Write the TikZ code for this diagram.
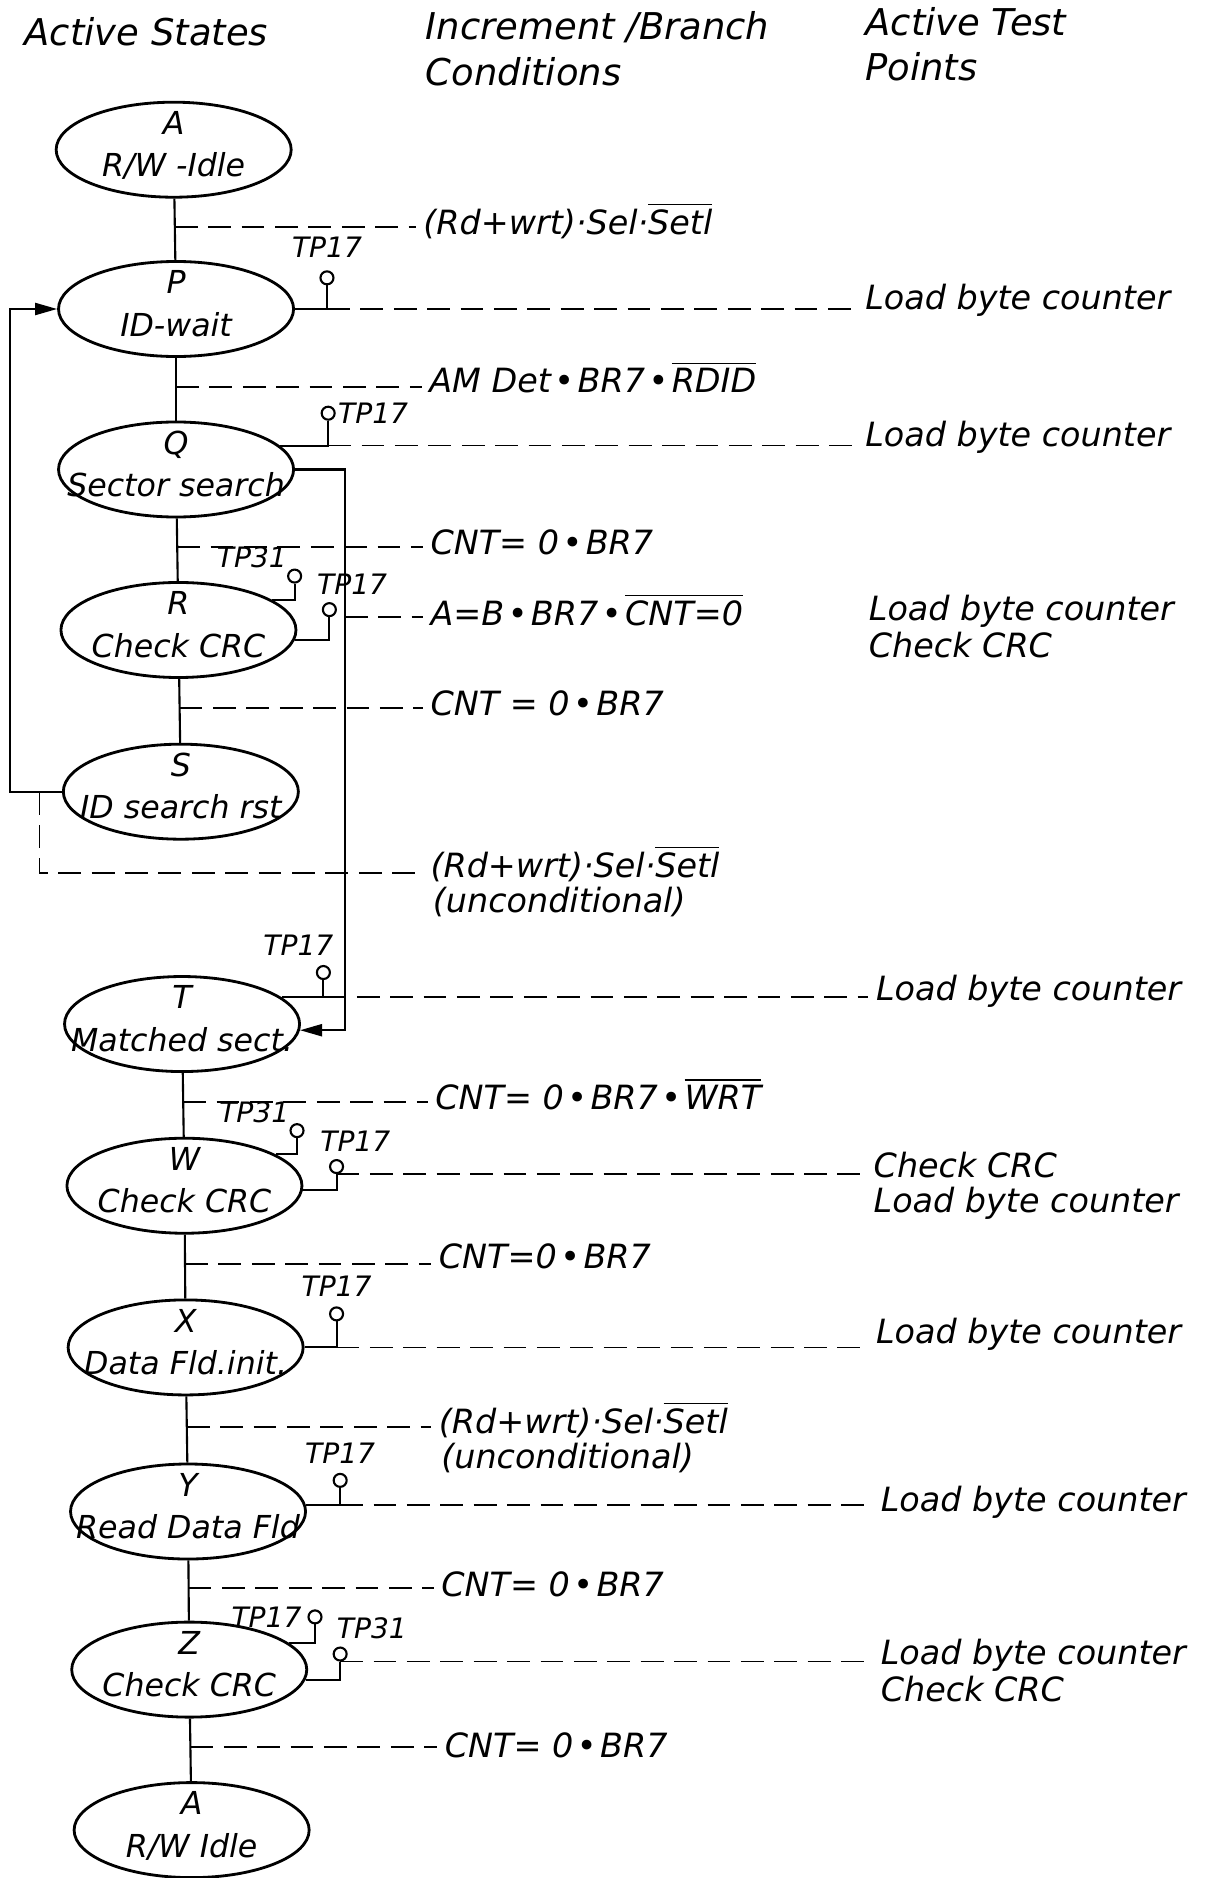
\documentclass[tikz,border=0pt]{standalone}
\usepackage{fontspec}
\setmainfont{DejaVu Sans}
\usetikzlibrary{positioning,shapes.geometric,arrows.meta}
\newcommand\sttext[2]{\smash{\makebox[0pt]{\raisebox{-1.5pt}{\def\arraystretch{1.1}\begin{tabular}{@{}c@{}}#1\\#2\end{tabular}}}}}
\newcommand\negd[1]{$\overline{\mbox{#1}}$}
\newcommand\bul{\kern1pt•\kern1pt}
\tikzset{state/.style={draw,ellipse,line width=0.8pt,minimum width=2.35cm,minimum height=0.95cm,inner sep=0pt,font=\fontsize{9}{11}\selectfont\itshape},
 cond/.style={anchor=base west,inner sep=2pt,font=\fontsize{9.5}{11}\selectfont\itshape},
 head/.style={anchor=base west,inner sep=0pt,font=\fontsize{10.5}{13}\selectfont\itshape},
 tp/.style={draw,circle,minimum size=1.3mm,inner sep=0pt,line width=0.6pt},
 tplab/.style={inner sep=0.5pt,font=\fontsize{8}{9}\selectfont\itshape},
 wire/.style={line width=0.6pt},
 branch/.style={line width=0.5pt,dash pattern=on 6.5pt off 3pt},
 tip/.style={-{Triangle[length=2.2mm,width=1.2mm]}}}
\begin{document}
\begin{tikzpicture}[x=0.11975mm,y=-0.11975mm]
\useasboundingbox (0,0) rectangle (1028,1568);
% column heads
\node[head] (hA) at (20,38) {Active States};
\node[head] (hB1) at (355,33) {Increment /Branch};
\node[head] (hB2) at (355,71) {Conditions};
\node[head] (hC1) at (722,30) {Active Test};
\node[head] (hC2) at (722,67) {Points};
% states
\node[state] (A1) at (145,125) {\sttext{A}{R/W -Idle}};
\node[state] (P) at (147,258) {\sttext{P}{ID-wait}};
\node[state] (Q) at (147,392) {\sttext{Q}{Sector search}};
\node[state] (R) at (149,526) {\sttext{R}{Check CRC}};
\node[state] (S) at (151,661) {\sttext{S}{ID search rst}};
\node[state] (T) at (152,855) {\sttext{T}{Matched sect.}};
\node[state] (W) at (154,990) {\sttext{W}{Check CRC}};
\node[state] (X) at (155,1125) {\sttext{X}{Data Fld.init.}};
\node[state] (Y) at (157,1262) {\sttext{Y}{Read Data Fld}};
\node[state] (Z) at (158,1394) {\sttext{Z}{Check CRC}};
\node[state] (A2) at (160,1528) {\sttext{A}{R/W Idle}};
% branch conditions
\node[cond] (cA1) at (347,196) {(Rd+wrt)·Sel·\negd{Setl}};
\node[cond] (cP) at (352,328) {AM Det\bul BR7\bul \negd{RDID}};
\node[cond] (cQ) at (353,463) {CNT= 0\bul BR7};
\node[cond] (cAB) at (353,522) {A=B\bul BR7\bul \negd{CNT=0}};
\node[cond] (cR) at (353,597) {CNT = 0\bul BR7};
\node[cond] (cS) at (353,733) {(Rd+wrt)·Sel·\negd{Setl}};
\node[cond] (uS) at (355,762) {(unconditional)};
\node[cond] (cT) at (357,926) {CNT= 0\bul BR7\bul \negd{WRT}};
\node[cond] (cW) at (360,1059) {CNT=0\bul BR7};
\node[cond] (cX) at (360,1197) {(Rd+wrt)·Sel·\negd{Setl}};
\node[cond] (uX) at (362,1226) {(unconditional)};
\node[cond] (cY) at (362,1333) {CNT= 0\bul BR7};
\node[cond] (cZ) at (365,1467) {CNT= 0\bul BR7};
% active test points
\node[cond] (aP) at (716,258) {Load byte counter};
\node[cond] (aQ) at (716,373) {Load byte counter};
\node[cond] (aR1) at (719,518) {Load byte counter};
\node[cond] (aR2) at (719,549) {Check CRC};
\node[cond] (aT) at (725,835) {Load byte counter};
\node[cond] (aW1) at (723,983) {Check CRC};
\node[cond] (aW2) at (723,1012) {Load byte counter};
\node[cond] (aX) at (725,1122) {Load byte counter};
\node[cond] (aY) at (729,1262) {Load byte counter};
\node[cond] (aZ1) at (729,1390) {Load byte counter};
\node[cond] (aZ2) at (729,1421) {Check CRC};
% test point pins
\node[tp] (tpP) at (273,232) {};
\node[tp] (tpQ) at (274,345) {};
\node[tp] (tp31R) at (246,481) {};
\node[tp] (tp17R) at (275,509) {};
\node[tp] (tpT) at (270,812) {};
\node[tp] (tp31W) at (248,944) {};
\node[tp] (tp17W) at (281,974) {};
\node[tp] (tpX) at (281,1097) {};
\node[tp] (tpY) at (284,1236) {};
\node[tp] (tp17Z) at (263,1350) {};
\node[tp] (tp31Z) at (284,1381) {};
\node[tplab,above=3pt of tpP] (lP) {TP17};
\node[tplab,right=0pt of tpQ] (lQ) {TP17};
\node[tplab,above left=0pt and 0pt of tp31R] (l31R) {TP31};
\node[tplab,above right=2pt and -0.2cm of tp17R] (l17R) {TP17};
\node[tplab,above=2pt of tpT,xshift=-0.25cm] (lT) {TP17};
\node[tplab,above left=0pt and 0pt of tp31W] (l31W) {TP31};
\node[tplab,above right=2pt and -0.24cm of tp17W] (l17W) {TP17};
\node[tplab,above=2pt of tpX] (lX) {TP17};
\node[tplab,above=2pt of tpY] (lY) {TP17};
\node[tplab,left=1pt of tp17Z] (l17Z) {TP17};
\node[tplab,above right=2pt and -0.11cm of tp31Z] (l31Z) {TP31};
% trunk and conditions
\foreach \a/\b in {A1/P,P/Q,Q/R,R/S,T/W,W/X,X/Y,Y/Z,Z/A2}
  \draw[wire] (\a) -- coordinate[pos=.46] (k\a) (\b);
\foreach \a in {A1,P,Q,R,T,W,X,Y,Z}
  \draw[branch] (k\a) -- (k\a -| c\a.west);
% loop back and bypass
\coordinate (loopL) at (8,450);
\coordinate (byp) at (288,600);
\coordinate (sj) at (33,661);
\coordinate (sb) at (33,729);
\draw[wire,tip] (S.west) -| (loopL) |- (P.west);
\draw[wire,tip] (Q.east) -| (byp) |- (T.-3);
\draw[branch] (sj) -- (sb) -- (sb -| cS.west);
\draw[branch] (byp |- 0,515) -- (cAB.west |- 0,515);
% pins to states
\draw[wire] (P.east) -| (tpP);
\draw[wire] (Q.13) -| (tpQ);
\draw[wire] (R.18) -| (tp31R);
\draw[wire] (R.-5) -| (tp17R);
\draw[wire] (T.15) -| (tpT);
\draw[wire] (W.19) -| (tp31W);
\draw[wire] (W.-2) -| (tp17W);
\draw[wire] (X.east) -| (tpX);
\draw[wire] (Y.3) -| (tpY);
\draw[wire] (Z.15) -| (tp17Z);
\draw[wire] (Z.-5) -| (tp31Z);
% pins to test points
\draw[branch] (P.east -| tpP) -- (P.east -| aP.west);
\draw[branch] (Q.13 -| tpQ) -- (Q.13 -| aQ.west);
\draw[branch] (T.15 -| tpT) -- (T.15 -| aT.west);
\draw[branch] (tp17W.south) -- (tp17W.south -| aW1.west);
\draw[branch] (X.east -| tpX) -- (X.east -| aX.west);
\draw[branch] (Y.3 -| tpY) -- (Y.3 -| aY.west);
\draw[branch] (tp31Z.south) -- (tp31Z.south -| aZ1.west);
\end{tikzpicture}
\end{document}
